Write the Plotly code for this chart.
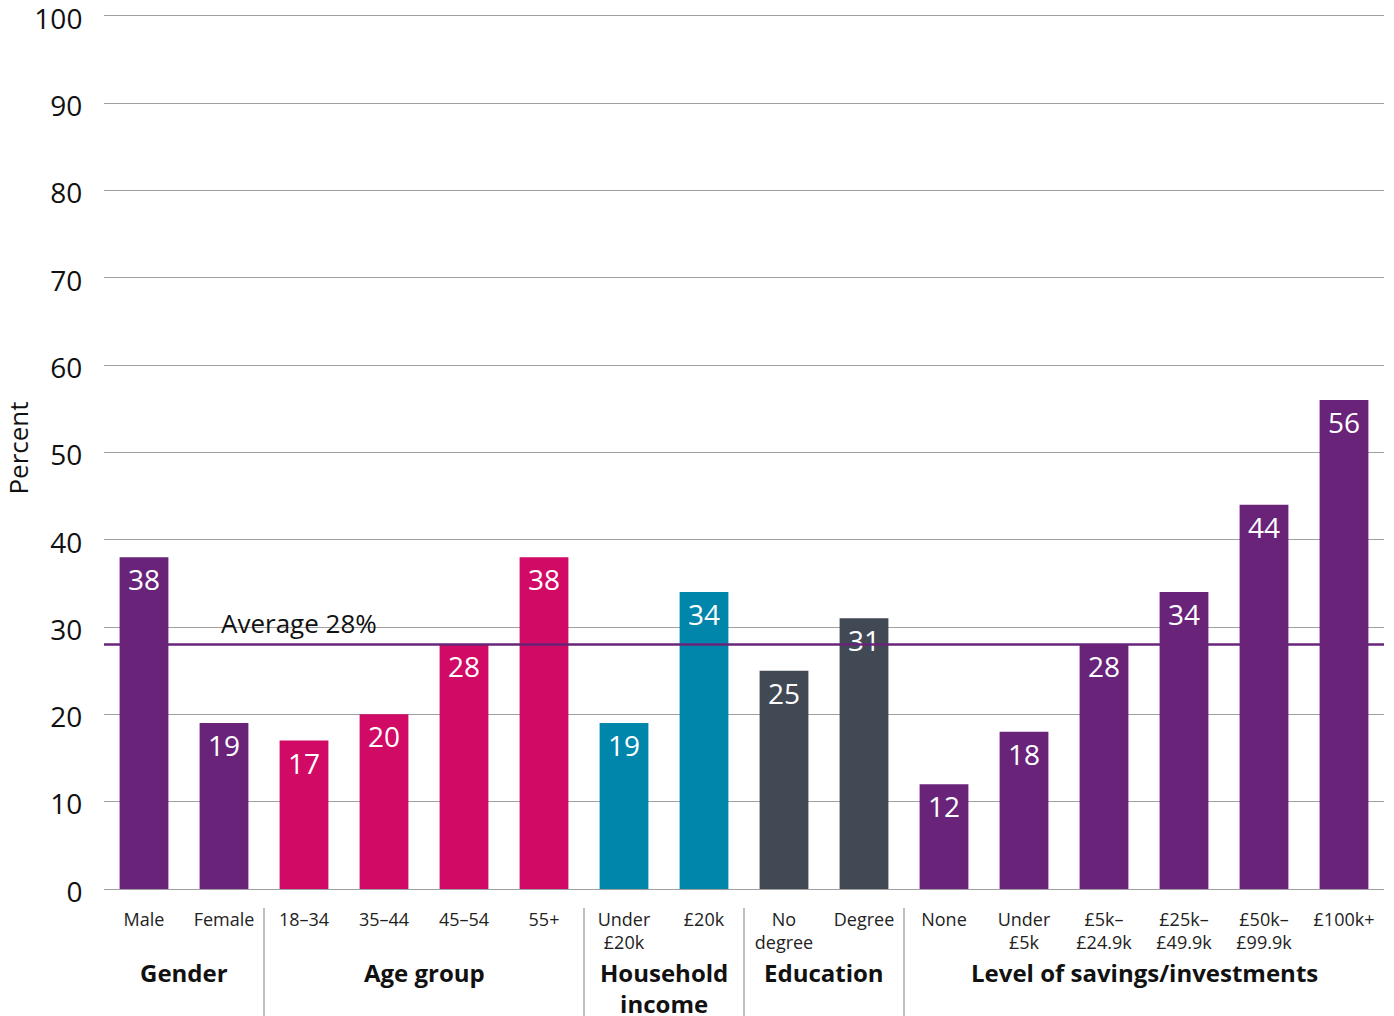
import plotly.graph_objects as go

categories = ["Male", "Female", "18–34", "35–44", "45–54", "55+",
              "Under<br>£20k", "£20k", "No<br>degree", "Degree",
              "None", "Under<br>£5k", "£5k–<br>£24.9k", "£25k–<br>£49.9k",
              "£50k–<br>£99.9k", "£100k+"]
values = [38, 19, 17, 20, 28, 38, 19, 34, 25, 31, 12, 18, 28, 34, 44, 56]
group_of_bar = ["Gender", "Gender", "Age group", "Age group", "Age group", "Age group",
                "Household income", "Household income", "Education", "Education",
                "Savings", "Savings", "Savings", "Savings", "Savings", "Savings"]
group_names = ["Gender", "Age group", "Household<br>income", "Education",
               "Level of savings/investments"]
group_sizes = [2, 4, 2, 2, 6]
y_ticks = list(range(0, 101, 10))
average = 28

palette = {"Gender": "#69247a", "Age group": "#d10a66", "Household income": "#0085ab",
           "Education": "#414955", "Savings": "#69247a"}

font_family = "Open Sans, Noto Sans, DejaVu Sans, sans-serif"
xpos = list(range(len(categories)))

fig = go.Figure()
fig.add_trace(go.Bar(
    x=xpos, y=values,
    marker=dict(color=[palette[g] for g in group_of_bar], line=dict(width=0)),
    text=[str(v) for v in values],
    textposition="inside", insidetextanchor="end", textangle=0,
    constraintext="none",
    textfont=dict(color="white", size=28, family=font_family),
    width=0.61,
    hoverinfo="x+y",
))

# average line
fig.add_shape(type="line", xref="paper", yref="y", x0=0, x1=1, y0=average, y1=average,
              line=dict(color="#69247a", width=2.5), layer="above")
fig.add_annotation(xref="paper", yref="y", x=0.0898, y=average, xanchor="left",
                   yanchor="bottom", yshift=1, text=f"Average {average}%", showarrow=False,
                   font=dict(size=26, color="#111", family=font_family))

# group labels and separators
top_px, bottom_px = 7, 889
plot_h = bottom_px - top_px
start = 0
for i, (name, size) in enumerate(zip(group_names, group_sizes)):
    center = start + (size - 1) / 2
    fig.add_annotation(xref="x", yref="paper", x=center, y=(bottom_px - 954) / plot_h,
                       xanchor="center", yanchor="top", text=f"<b>{name}</b>",
                       showarrow=False,
                       font=dict(size=24, color="#111", family=font_family))
    if i > 0:
        fig.add_shape(type="line", xref="x", yref="paper", x0=start - 0.5, x1=start - 0.5,
                      y0=(bottom_px - 908) / plot_h, y1=(bottom_px - 1016) / plot_h,
                      line=dict(color="#aaaaaa", width=1.5))
    start += size

fig.update_layout(
    width=1394, height=1016,
    margin=dict(l=104, r=10, t=top_px, b=1016 - bottom_px, autoexpand=False),
    plot_bgcolor="white", paper_bgcolor="white",
    showlegend=False,
    font=dict(family=font_family, color="#111"),
    xaxis=dict(range=[-0.5, len(categories) - 0.5], tickvals=xpos, ticktext=categories,
               tickfont=dict(size=18, color="#222"), showgrid=False, zeroline=False,
               showline=False, ticks="outside", ticklen=14, tickcolor="rgba(0,0,0,0)",
               automargin=False),
    yaxis=dict(range=[0, 101], tickvals=y_ticks, showgrid=True,
               gridcolor="#a0a0a0", gridwidth=1,
               zeroline=True, zerolinecolor="#a0a0a0", zerolinewidth=1,
               tickfont=dict(size=28, color="#111"), ticks="outside", ticklen=15,
               tickcolor="rgba(0,0,0,0)", ticklabeloverflow="allow", automargin=False,
               ticklabelshift=3,
               title=dict(text="Percent", font=dict(size=26, color="#111"), standoff=14)),
)

fig.write_html("out.html")
